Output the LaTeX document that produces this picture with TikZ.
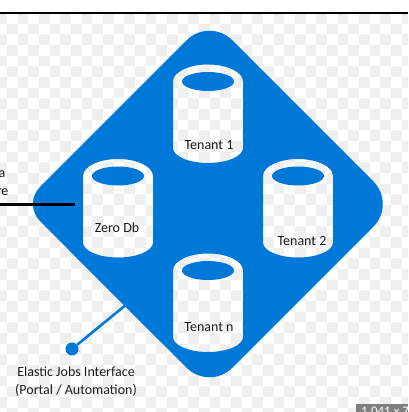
\documentclass[tikz,border=0pt]{standalone}
\usepackage{fontspec}
\setmainfont{Carlito}
\usetikzlibrary{positioning, shapes.geometric}
\definecolor{bluex}{HTML}{0078D7}
\definecolor{checkx}{HTML}{EFEFEF}
\definecolor{barx}{HTML}{7F7F7F}
\definecolor{inkx}{HTML}{1A1A1A}

\begin{document}
\begin{tikzpicture}[
  x=1pt, y=1pt,
  font=\fontsize{14}{17}\selectfont,
  lbl/.style={text=inkx, inner sep=0pt, align=center},
  lid/.style={ellipse, fill=bluex, minimum width=52pt, minimum height=19pt, inner sep=0pt},
  link/.style={draw=bluex, line width=2.5pt},
]
\useasboundingbox (0,0) rectangle (408,412);
\clip (0,0) rectangle (408,412);

% checker background
\foreach \c in {0,...,38} {
  \foreach \r in {0,...,37} {
    \pgfmathparse{int(mod(\c+\r,2))}
    \ifnum\pgfmathresult=0
      \fill[checkx] ({-3.67+10.67*\c},{399-10.67*\r}) rectangle ++(10.67,-10.67);
    \fi
  }
}
\draw[line width=1.3pt] (0,399) -- (408,399);

% diamond with the four cylinders cut out
\fill[bluex, even odd rule]
  [rounded corners=24pt] (116,114.5) -- (23,208) [rounded corners=32pt] -- (209.5,394.5) -- (396,208) -- (209.5,21.5) -- cycle
  [sharp corners]
  \foreach \cx/\cy in {208/298.5, 118/204, 298/204, 208/109.5} {
    (\cx-35,\cy+32) arc[start angle=180, end angle=0, x radius=35, y radius=17]
    -- (\cx+35,\cy-34.5) arc[start angle=0, end angle=-180, x radius=35, y radius=15]
    -- cycle
  };

\node[lid] (lid1) at (208,330.5) {};
\node[lid] (lid0) at (118,236) {};
\node[lid] (lid2) at (298,236) {};
\node[lid] (lidn) at (208,141.5) {};

\node[lbl] (t1) at (209,267) {Tenant 1};
\node[lbl] (t0) at (117,184) {Zero Db};
\node[lbl] (t2) at (302,171) {Tenant 2};
\node[lbl] (tn) at (209,85) {Tenant n};

% left side
\node[lbl, anchor=east] (la) at (5.5,238) {a};
\node[lbl, anchor=east] (lb) at (8.5,220) {re};
\coordinate (datain) at (0,207);
\coordinate (dataend) at (75,207);
\draw[line width=3pt] (datain) -- (dataend);

% jobs interface
\node[circle, fill=bluex, minimum size=13pt, inner sep=0pt] (dot) at (72,63) {};
\coordinate (edge) at (127,108);
\draw[link] (dot) -- (edge);
\node[lbl, below=11pt of dot, xshift=4pt, font=\fontsize{14}{17.5}\selectfont] (jobs) {Elastic Jobs Interface\\(Portal / Automation)};

% size bar, cut by the picture's edge
\fill[barx] (356,0) rectangle (408,8);
\node[text=white, anchor=north west, inner sep=0pt, font=\fontsize{13}{15}\selectfont] (size) at (361,5) {1,041 x 71};
\end{tikzpicture}
\end{document}
